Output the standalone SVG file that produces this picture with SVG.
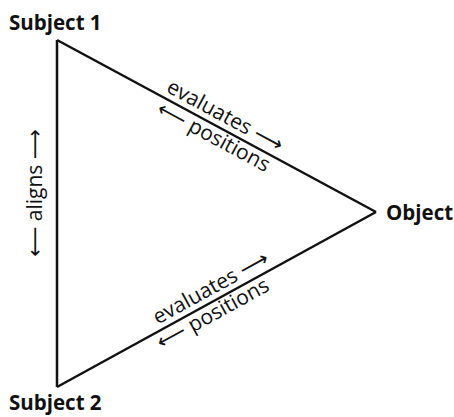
<svg xmlns="http://www.w3.org/2000/svg" width="454" height="417" viewBox="0 0 454 417">
<style>
.node{font-family:"Open Sans","Liberation Sans",sans-serif;font-weight:bold;font-size:20.5px;fill:#111}
.lbl{font-family:"Open Sans","DejaVu Sans",sans-serif;font-size:21px;fill:#111;text-anchor:middle}
.edge{stroke:#111;stroke-width:2.5;fill:none;stroke-linejoin:miter}
</style>
<rect width="454" height="417" fill="#fff"/>
<g id="connectors">
<line class="edge" x1="57" y1="40" x2="376" y2="212"/>
<line class="edge" x1="57" y1="387" x2="376" y2="212"/>
<line class="edge" x1="57" y1="40" x2="57" y2="387"/>
<g transform="translate(219,127) rotate(28.33)"><text class="lbl" x="0" y="-6">evaluates ⟶</text><text class="lbl" x="0" y="18">⟵ positions</text></g>
<g transform="translate(217,299) rotate(-28.75)"><text class="lbl" x="0" y="-6">evaluates ⟶</text></g>
<g transform="translate(207.5,304) rotate(-28.75)"><text class="lbl" x="0" y="18">⟵ positions</text></g>
<g transform="translate(42,193) rotate(-90)"><text class="lbl" x="0" y="0">⟵ aligns ⟶</text></g>
</g>
<g id="subject1"><text class="node" x="9" y="30">Subject 1</text></g>
<g id="object"><text class="node" x="386" y="220">Object</text></g>
<g id="subject2"><text class="node" x="9" y="410">Subject 2</text></g>
</svg>
